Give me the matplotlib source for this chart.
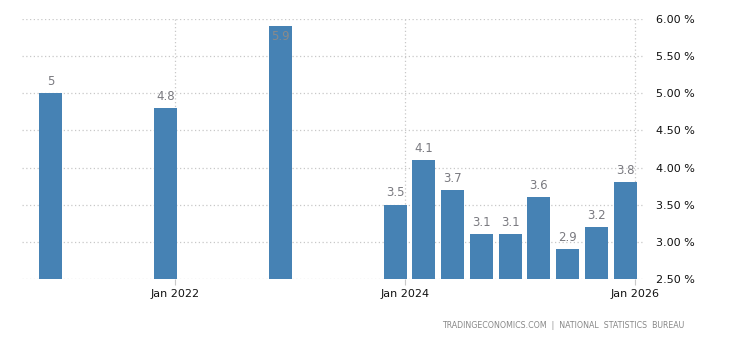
import datetime as dt
import matplotlib
matplotlib.use("Agg")
import matplotlib.pyplot as plt
import matplotlib.dates as mdates

# unemployment rate, annual then quarterly
dates = [dt.date(2020, 12, 1), dt.date(2021, 12, 1), dt.date(2022, 12, 1),
         dt.date(2023, 12, 1), dt.date(2024, 3, 1), dt.date(2024, 6, 1),
         dt.date(2024, 9, 1), dt.date(2024, 12, 1), dt.date(2025, 3, 1),
         dt.date(2025, 6, 1), dt.date(2025, 9, 1), dt.date(2025, 12, 1)]
values = [5.0, 4.8, 5.9, 3.5, 4.1, 3.7, 3.1, 3.1, 3.6, 2.9, 3.2, 3.8]
labels = ["5", "4.8", "5.9", "3.5", "4.1", "3.7", "3.1", "3.1", "3.6", "2.9", "3.2", "3.8"]
xticks = [dt.date(2022, 1, 1), dt.date(2024, 1, 1), dt.date(2026, 1, 1)]
yticks = [2.5, 3.0, 3.5, 4.0, 4.5, 5.0, 5.5, 6.0]

bar_color = "#4682b4"
grid_color = "#c8c8c8"
label_color = "#7a7a80"

fig = plt.figure(figsize=(7.3, 3.4), dpi=100)
ax = fig.add_axes([0.030, 0.1794, 0.8536, 0.7647])

x = mdates.date2num(dates)
ax.bar(x, [v - 2.5 for v in values], bottom=2.5, width=73, color=bar_color, zorder=3)

ymin, ymax = 2.5, 6.0
ax.set_ylim(ymin, ymax)
ax.set_xlim(mdates.date2num(dt.date(2020, 8, 31)), mdates.date2num(dt.date(2026, 2, 2)))

for xi, v, lab in zip(x, values, labels):
    if v > ymax - 0.25:
        # no room above the bar: put the label just inside its top
        ax.annotate(lab, (xi, v), xytext=(0, -7.5), textcoords="offset points",
                    ha="center", va="center", fontsize=8.5, color="#8a8a8a", zorder=4)
    else:
        ax.annotate(lab, (xi, v), xytext=(0, 8.5), textcoords="offset points",
                    ha="center", va="center", fontsize=8.5, color=label_color, zorder=4)

ax.set_xticks(mdates.date2num(xticks))
ax.set_xticklabels([d.strftime("Jan %Y") for d in xticks])
ax.set_yticks(yticks)
ax.set_yticklabels(["%.2f %%" % t for t in yticks])
ax.yaxis.tick_right()

ax.tick_params(axis="x", length=4, color=grid_color, labelsize=8, pad=3, labelcolor="#111111")
ax.tick_params(axis="y", length=0, labelsize=8, pad=8, labelcolor="#111111")

ax.grid(True, axis="both", linestyle=(0, (1, 2)), color=grid_color, linewidth=0.9, zorder=0)
for s in ax.spines.values():
    s.set_visible(False)

fig.text(0.938, 0.044, "TRADINGECONOMICS.COM  |  NATIONAL  STATISTICS  BUREAU",
         ha="right", va="center", fontsize=5.7, color="#888888")

fig.savefig("out.png", dpi=100)
